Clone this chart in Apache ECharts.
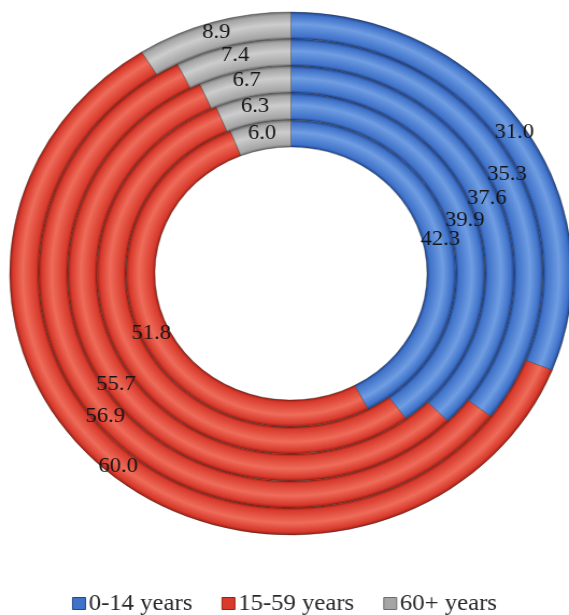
<!DOCTYPE html>
<html>
<head>
<meta charset="utf-8">
<script src="https://cdn.jsdelivr.net/npm/echarts@6/dist/echarts.min.js"></script>
<style>
  html, body { margin: 0; padding: 0; background: #ffffff; overflow: hidden; }
  #chart { width: 529px; height: 615px; transform: scaleX(1.0756); transform-origin: 0 0; }
</style>
</head>
<body>
<div id="chart"></div>
<script>
// Age groups (legend order)
const categories = ['0-14 years', '15-59 years', '60+ years'];

// One ring per period, outermost ring first
const young  = [31.0, 35.3, 37.6, 39.9, 42.3];
const adults = [60.0, 56.9, 55.7, 53.8, 51.8];
const elderly = [8.9, 7.4, 6.7, 6.3, 6.0];
// Whether the value label is printed on each segment
const adultLabelShown = [true, true, true, false, true];

const palette = [
  { dark: '#22458c', base: '#3f72c9', light: '#709ee3' },
  { dark: '#9a2015', base: '#d83a2c', light: '#ef6c5a' },
  { dark: '#6c6c6c', base: '#a5a5a5', light: '#cdcdcd' }
];

const cx = 270.5, cy = 273.5;
const outerR = 261.5, innerR = 126.5;
const ringCount = young.length;
const ringW = (outerR - innerR) / ringCount;

// Bevel-like shading: dark rims, lighter band through the middle of each ring
function ringFill(p, r0, r1) {
  const f = r0 / r1, span = 1 - f;
  return {
    type: 'radial', x: cx, y: cy, r: r1, global: true,
    colorStops: [
      { offset: 0, color: p.dark },
      { offset: f, color: p.dark },
      { offset: f + span * 0.1, color: p.base },
      { offset: f + span * 0.55, color: p.light },
      { offset: f + span * 0.88, color: p.base },
      { offset: 1, color: p.dark }
    ]
  };
}

const series = [];
for (let i = 0; i < ringCount; i++) {
  const r1 = outerR - i * ringW;
  const r0 = r1 - ringW;
  const vals = [young[i], adults[i], elderly[i]];
  series.push({
    type: 'pie',
    center: [cx, cy],
    radius: [r0, r1],
    startAngle: 90,
    clockwise: true,
    silent: true,
    avoidLabelOverlap: false,
    labelLayout: { hideOverlap: false },
    label: {
      show: true,
      position: 'inside',
      fontFamily: 'Liberation Serif',
      fontSize: 21,
      color: '#151515',
      formatter: p => p.value.toFixed(1)
    },
    labelLine: { show: false },
    itemStyle: { borderColor: 'rgba(40,40,40,0.45)', borderWidth: 0.8 },
    data: vals.map((v, k) => ({
      name: categories[k],
      value: v,
      itemStyle: { color: ringFill(palette[k], r0, r1) },
      label: { show: k === 1 ? adultLabelShown[i] : true }
    }))
  });
}

const chart = echarts.init(document.getElementById('chart'), null, { renderer: 'canvas' });
chart.setOption({
  animation: false,
  backgroundColor: '#ffffff',
  legend: {
    left: 'center',
    top: 587,
    icon: 'rect',
    itemWidth: 12,
    itemHeight: 12,
    itemGap: 27,
    selectedMode: false,
    textStyle: { fontFamily: 'Liberation Serif', fontSize: 23, color: '#2a2a2a', padding: [0, 0, 0, -2] },
    data: categories.map((c, k) => ({ name: c, itemStyle: { color: palette[k].base, borderColor: palette[k].dark, borderWidth: 1 } }))
  },
  series: series
});
</script>
</body>
</html>
